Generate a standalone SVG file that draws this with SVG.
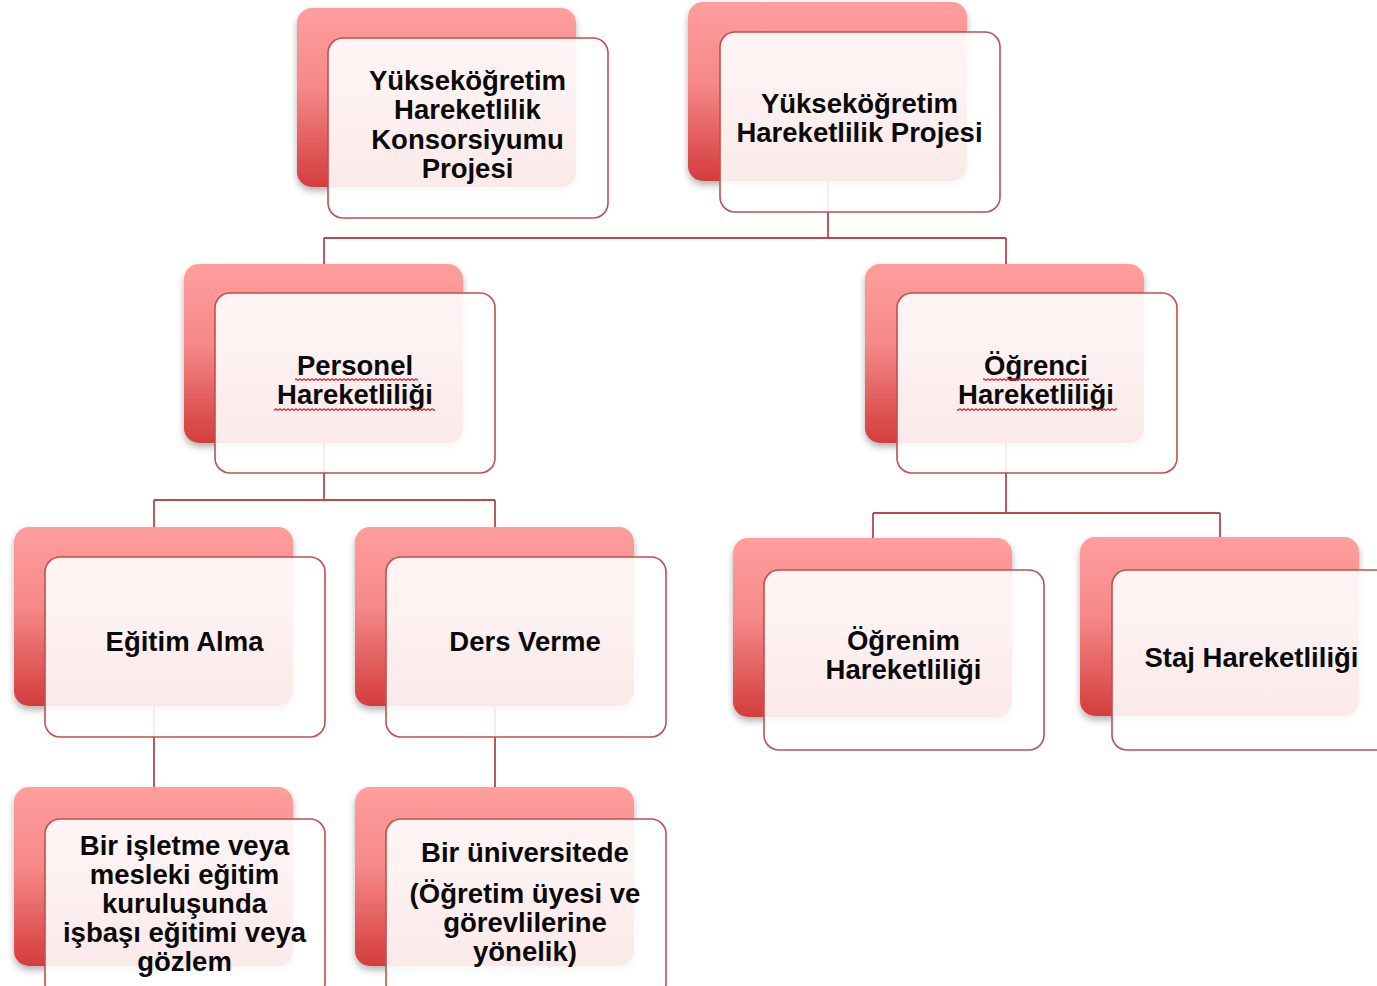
<svg xmlns="http://www.w3.org/2000/svg" width="1377" height="986" viewBox="0 0 1377 986">
<style>
.back{fill:url(#bg);filter:url(#sh)}
.front{fill:#ffffff;fill-opacity:0.89;stroke:#c0504d;stroke-width:1.6}
.lbl{font-family:"Liberation Sans",Arial,sans-serif;font-weight:bold;font-size:27.5px;fill:#0a0a0a;text-anchor:middle}
.conn{fill:none;stroke:#b8484a;stroke-width:1.8}
.wavy{fill:url(#wave)}
</style>
<defs>
<linearGradient id="bg" x1="0" y1="0" x2="0" y2="1">
<stop offset="0" stop-color="#ff9e9e"/>
<stop offset="0.45" stop-color="#f68888"/>
<stop offset="1" stop-color="#d43c3c"/>
</linearGradient>
<filter id="sh" x="-10%" y="-10%" width="125%" height="130%">
<feDropShadow dx="0" dy="4" stdDeviation="3.5" flood-color="#000" flood-opacity="0.3"/>
</filter>
<pattern id="wave" width="4" height="3" patternUnits="userSpaceOnUse">
<path d="M0,0.6 L2,2.4 L4,0.6" fill="none" stroke="#e8141e" stroke-width="1.2"/>
</pattern>
</defs>
<rect width="1377" height="986" fill="#ffffff"/>
<g id="connectors">
<path class="conn" d="M828,180 V238 M324,238 H1006 M324,238 V264 M1006,238 V264"/>
<path class="conn" d="M324,443 V500 M154,500 H495 M154,500 V527 M495,500 V527"/>
<path class="conn" d="M1006,443 V513 M873,513 H1220 M873,513 V538 M1220,513 V537"/>
<path class="conn" d="M154,705 V787 M495,705 V787"/>
</g>
<g id="konsorsiyum">
<rect class="back" x="297" y="8" width="279" height="179" rx="15"/>
<rect class="front" x="328" y="38" width="280" height="180" rx="15"/>
<text class="lbl"><tspan x="467.5" y="90">Yükseköğretim</tspan><tspan x="467.5" y="119">Hareketlilik</tspan><tspan x="467.5" y="149">Konsorsiyumu</tspan><tspan x="467.5" y="178">Projesi</tspan></text>
</g>
<g id="proje">
<rect class="back" x="688" y="2" width="279" height="179" rx="15"/>
<rect class="front" x="720" y="32" width="280" height="180" rx="15"/>
<text class="lbl"><tspan x="859.5" y="113">Yükseköğretim</tspan><tspan x="859.5" y="142">Hareketlilik Projesi</tspan></text>
</g>
<g id="personel">
<rect class="back" x="184" y="264" width="279" height="179" rx="15"/>
<rect class="front" x="215" y="293" width="280" height="180" rx="15"/>
<text class="lbl"><tspan x="355" y="375">Personel</tspan><tspan x="355" y="404">Hareketliliği</tspan></text>
<rect class="wavy" x="295" y="378" width="123" height="3"/>
<rect class="wavy" x="274" y="408" width="161" height="3"/>
</g>
<g id="ogrenci">
<rect class="back" x="865" y="264" width="279" height="179" rx="15"/>
<rect class="front" x="897" y="293" width="280" height="180" rx="15"/>
<text class="lbl"><tspan x="1036" y="375">Öğrenci</tspan><tspan x="1036" y="404">Hareketliliği</tspan></text>
<rect class="wavy" x="983" y="378" width="106" height="3"/>
<rect class="wavy" x="957" y="408" width="160" height="3"/>
</g>
<g id="egitim-alma">
<rect class="back" x="14" y="527" width="279" height="179" rx="15"/>
<rect class="front" x="45" y="557" width="280" height="180" rx="15"/>
<text class="lbl" x="184.5" y="651">Eğitim Alma</text>
</g>
<g id="ders-verme">
<rect class="back" x="355" y="527" width="279" height="179" rx="15"/>
<rect class="front" x="386" y="557" width="280" height="180" rx="15"/>
<text class="lbl" x="525" y="651">Ders Verme</text>
</g>
<g id="ogrenim">
<rect class="back" x="733" y="538" width="279" height="179" rx="15"/>
<rect class="front" x="764" y="570" width="280" height="180" rx="15"/>
<text class="lbl"><tspan x="903.5" y="650">Öğrenim</tspan><tspan x="903.5" y="679">Hareketliliği</tspan></text>
</g>
<g id="staj">
<rect class="back" x="1080" y="537" width="279" height="179" rx="15"/>
<rect class="front" x="1112" y="570" width="280" height="180" rx="15"/>
<text class="lbl" x="1251.5" y="667">Staj Hareketliliği</text>
</g>
<g id="isletme">
<rect class="back" x="14" y="787" width="279" height="179" rx="15"/>
<rect class="front" x="45" y="819" width="280" height="180" rx="15"/>
<text class="lbl"><tspan x="184.5" y="855">Bir işletme veya</tspan><tspan x="184.5" y="884">mesleki eğitim</tspan><tspan x="184.5" y="913">kuruluşunda</tspan><tspan x="184.5" y="942">işbaşı eğitimi veya</tspan><tspan x="184.5" y="971">gözlem</tspan></text>
</g>
<g id="universite">
<rect class="back" x="355" y="787" width="279" height="179" rx="15"/>
<rect class="front" x="386" y="819" width="280" height="180" rx="15"/>
<text class="lbl"><tspan x="525" y="862">Bir üniversitede</tspan><tspan x="525" y="903">(Öğretim üyesi ve</tspan><tspan x="525" y="932">görevlilerine</tspan><tspan x="525" y="961">yönelik)</tspan></text>
</g>
</svg>
